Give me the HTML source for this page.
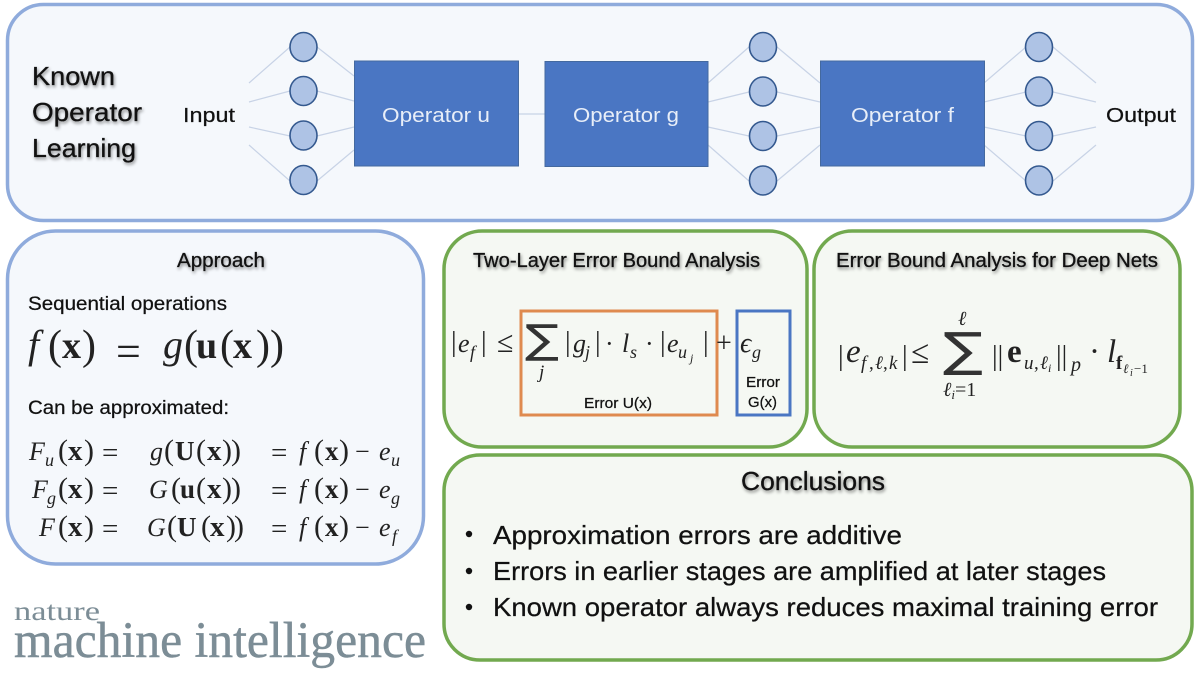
<!DOCTYPE html>
<html><head><meta charset="utf-8">
<style>
html,body{margin:0;padding:0;background:#fff}
svg{display:block}
text{font-family:"Liberation Sans",sans-serif;fill:#111}
.s{stroke:#111;stroke-width:.25px}
.sh{filter:drop-shadow(1.5px 2.5px 1.5px rgba(0,0,0,.45));stroke:#111;stroke-width:.3px}
.m{font-family:"Liberation Serif",serif;fill:#222}
.i{font-style:italic}
.b{font-weight:bold}
.op{fill:#e8eef8;font-size:20px}
.l{stroke:#c8d3e6;stroke-width:1.2;fill:none}
.c{fill:#aec3e5;stroke:#34598f;stroke-width:1.6}
.r{fill:#4a76c3;stroke:#44699f;stroke-width:1}
.t{font-size:20px}
.bl{font-size:26px}
.sg{font-family:"DejaVu Sans",sans-serif;fill:#333}
</style></head><body>
<svg width="1200" height="675" viewBox="0 0 1200 675" xmlns="http://www.w3.org/2000/svg">
<rect width="1200" height="675" fill="#fff"/>
<rect x="7.5" y="4.5" width="1185" height="216" rx="36" fill="#f5f8fc" stroke="#8fabdc" stroke-width="3.5"/>
<rect x="7.5" y="231" width="416" height="333" rx="48" fill="#f5f8fc" stroke="#8fabdc" stroke-width="3.5"/>
<rect x="444" y="231" width="363" height="216" rx="38" fill="#f5f8f3" stroke="#72a94f" stroke-width="3.5"/>
<rect x="814" y="231" width="366" height="216" rx="38" fill="#f5f8f3" stroke="#72a94f" stroke-width="3.5"/>
<rect x="444" y="455" width="748" height="205" rx="36" fill="#f5f8f3" stroke="#72a94f" stroke-width="3.5"/>

<g class="l">
<path d="M249 83L290 47M249 102L290 91M249 127L290 136M249 145L290 181"/>
<path d="M317 47L354 76M317 91L354 101M317 136L354 127M317 181L354 150"/>
<path d="M519 114H545"/>
<path d="M708 83L749 47M708 102L749 92M708 127L749 136M708 145L749 181"/>
<path d="M777 47L820 83M777 92L820 102M777 136L820 127M777 181L820 145"/>
<path d="M984 83L1026 47M984 102L1026 92M984 127L1026 136M984 145L1026 181"/>
<path d="M1053 47L1096 83M1053 92L1096 102M1053 136L1096 127M1053 181L1096 145"/>
</g>
<g class="c">
<ellipse cx="303.500" cy="47" rx="13.500" ry="14.500"/><ellipse cx="303.500" cy="91" rx="13.500" ry="14.500"/><ellipse cx="303.500" cy="135.500" rx="13.500" ry="14.500"/><ellipse cx="303.500" cy="180" rx="13.500" ry="14.500"/>
<ellipse cx="763" cy="47" rx="13.500" ry="14.500"/><ellipse cx="763" cy="91.500" rx="13.500" ry="14.500"/><ellipse cx="763" cy="136" rx="13.500" ry="14.500"/><ellipse cx="763" cy="180.500" rx="13.500" ry="14.500"/>
<ellipse cx="1039" cy="47" rx="13.500" ry="14.500"/><ellipse cx="1039" cy="91.500" rx="13.500" ry="14.500"/><ellipse cx="1039" cy="136" rx="13.500" ry="14.500"/><ellipse cx="1039" cy="180.500" rx="13.500" ry="14.500"/>
</g>
<rect class="r" x="354.500" y="61" width="164" height="105"/>
<rect class="r" x="545" y="61.500" width="163" height="105"/>
<rect class="r" x="820.500" y="61" width="164" height="105"/>
<text class="op" x="382" y="122" textLength="108" lengthAdjust="spacingAndGlyphs">Operator u</text>
<text class="op" x="573" y="122" textLength="106" lengthAdjust="spacingAndGlyphs">Operator g</text>
<text class="op" x="851" y="122" textLength="103" lengthAdjust="spacingAndGlyphs">Operator f</text>
<text class="t s" x="183" y="122" textLength="52" lengthAdjust="spacingAndGlyphs">Input</text>
<text class="t s" x="1106" y="122" textLength="70" lengthAdjust="spacingAndGlyphs">Output</text>

<g class="sh">
<text x="32" y="85" font-size="26" textLength="83" lengthAdjust="spacingAndGlyphs">Known</text>
<text x="32" y="121" font-size="26" textLength="110" lengthAdjust="spacingAndGlyphs">Operator</text>
<text x="32" y="157" font-size="26" textLength="104" lengthAdjust="spacingAndGlyphs">Learning</text>
</g>

<text class="sh" x="177" y="267" font-size="20" textLength="88" lengthAdjust="spacingAndGlyphs">Approach</text>
<text class="s" x="28" y="310" font-size="19" textLength="199" lengthAdjust="spacingAndGlyphs">Sequential operations</text>
<text class="s" x="28" y="414" font-size="19" textLength="201" lengthAdjust="spacingAndGlyphs">Can be approximated:</text>

<g>
<text class="m i" x="28" y="358" font-size="40">f</text>
<text class="m" x="48" y="359" font-size="42">(</text>
<text class="m b" x="62" y="358" font-size="38">x</text>
<text class="m" x="82" y="359" font-size="42">)</text>
<text class="m" x="116" y="366" font-size="44">=</text>
<text class="m i" x="163" y="358" font-size="40">g</text>
<text class="m" x="184" y="359" font-size="42">(</text>
<text class="m b" x="196" y="358" font-size="38">u</text>
<text class="m" x="220" y="359" font-size="42">(</text>
<text class="m b" x="233" y="358" font-size="38">x</text>
<text class="m" x="256" y="359" font-size="42">)</text>
<text class="m" x="270" y="359" font-size="42">)</text>

<text class="m i" x="29" y="460" font-size="26">F</text><text class="m i" x="45" y="466" font-size="18">u</text>
<text class="m" x="58" y="460" font-size="30">(</text><text class="m b" x="68" y="460" font-size="29">x</text><text class="m" x="84" y="460" font-size="30">)</text>
<text class="m" x="102" y="462" font-size="29">=</text>
<text class="m i" x="150" y="460" font-size="26">g</text><text class="m" x="164" y="460" font-size="30">(</text><text class="m b" x="175" y="460" font-size="27">U</text><text class="m" x="196" y="460" font-size="30">(</text><text class="m b" x="207" y="460" font-size="29">x</text><text class="m" x="222" y="460" font-size="30">)</text><text class="m" x="231" y="460" font-size="30">)</text>
<text class="m" x="271" y="462" font-size="29">=</text>
<text class="m i" x="299" y="460" font-size="26">f</text><text class="m" x="314" y="460" font-size="30">(</text><text class="m b" x="325" y="460" font-size="27">x</text><text class="m" x="339" y="460" font-size="30">)</text>
<text class="m" x="355" y="460" font-size="26">−</text>
<text class="m i" x="379" y="460" font-size="26">e</text><text class="m i" x="391" y="466" font-size="18">u</text>

<text class="m i" x="32" y="498" font-size="26">F</text><text class="m i" x="47" y="504" font-size="18">g</text>
<text class="m" x="58" y="498" font-size="30">(</text><text class="m b" x="68" y="498" font-size="29">x</text><text class="m" x="84" y="498" font-size="30">)</text>
<text class="m" x="102" y="500" font-size="29">=</text>
<text class="m i" x="149" y="498" font-size="26">G</text><text class="m" x="171" y="498" font-size="30">(</text><text class="m b" x="180" y="498" font-size="27">u</text><text class="m" x="196" y="498" font-size="30">(</text><text class="m b" x="207" y="498" font-size="29">x</text><text class="m" x="222" y="498" font-size="30">)</text><text class="m" x="231" y="498" font-size="30">)</text>
<text class="m" x="271" y="500" font-size="29">=</text>
<text class="m i" x="299" y="498" font-size="26">f</text><text class="m" x="314" y="498" font-size="30">(</text><text class="m b" x="325" y="498" font-size="27">x</text><text class="m" x="339" y="498" font-size="30">)</text>
<text class="m" x="355" y="498" font-size="26">−</text>
<text class="m i" x="379" y="498" font-size="26">e</text><text class="m i" x="391" y="504" font-size="18">g</text>

<text class="m i" x="39" y="536" font-size="26">F</text>
<text class="m" x="58" y="536" font-size="30">(</text><text class="m b" x="68" y="536" font-size="29">x</text><text class="m" x="84" y="536" font-size="30">)</text>
<text class="m" x="102" y="538" font-size="29">=</text>
<text class="m i" x="147" y="536" font-size="26">G</text><text class="m" x="167" y="536" font-size="30">(</text><text class="m b" x="177" y="536" font-size="27">U</text><text class="m" x="201" y="536" font-size="30">(</text><text class="m b" x="210" y="536" font-size="29">x</text><text class="m" x="226" y="536" font-size="30">)</text><text class="m" x="234" y="536" font-size="30">)</text>
<text class="m" x="271" y="538" font-size="29">=</text>
<text class="m i" x="299" y="536" font-size="26">f</text><text class="m" x="314" y="536" font-size="30">(</text><text class="m b" x="325" y="536" font-size="27">x</text><text class="m" x="339" y="536" font-size="30">)</text>
<text class="m" x="355" y="536" font-size="26">−</text>
<text class="m i" x="379" y="536" font-size="26">e</text><text class="m i" x="392" y="542" font-size="18">f</text>
</g>

<text class="sh" x="473" y="267" font-size="20" textLength="287" lengthAdjust="spacingAndGlyphs">Two-Layer Error Bound Analysis</text>
<text class="sh" x="836" y="267" font-size="20" textLength="322" lengthAdjust="spacingAndGlyphs">Error Bound Analysis for Deep Nets</text>

<rect x="521" y="311" width="196" height="104" fill="none" stroke="#df8a4f" stroke-width="3"/>
<rect x="737" y="311" width="53" height="104" fill="none" stroke="#4a76c3" stroke-width="3"/>
<g>
<text class="m" x="451" y="351" font-size="28">|</text>
<text class="m i" x="458" y="352" font-size="26">e</text><text class="m i" x="470" y="358" font-size="18">f</text>
<text class="m" x="481" y="351" font-size="28">|</text>
<text class="m" x="497" y="352" font-size="30">≤</text>
<text class="sg" x="525" y="353" font-size="40" textLength="34" lengthAdjust="spacingAndGlyphs">∑</text>
<text class="m i" x="539" y="378" font-size="19">j</text>
<text class="m" x="565" y="351" font-size="28">|</text>
<text class="m i" x="573" y="352" font-size="26">g</text><text class="m i" x="585" y="358" font-size="18">j</text>
<text class="m" x="595" y="351" font-size="28">|</text>
<text class="m" x="605" y="352" font-size="26">·</text>
<text class="m i" x="622" y="352" font-size="26">l</text><text class="m i" x="630" y="358" font-size="18">s</text>
<text class="m" x="645" y="352" font-size="26">·</text>
<text class="m" x="660" y="351" font-size="28">|</text>
<text class="m i" x="667" y="352" font-size="26">e</text><text class="m i" x="678" y="358" font-size="18">u</text><text class="m i" x="690" y="362" font-size="12">j</text>
<text class="m" x="703" y="351" font-size="28">|</text>
<text class="m" x="716" y="352" font-size="28">+</text>
<text class="m i" x="740" y="352" font-size="28">ϵ</text><text class="m i" x="752" y="358" font-size="18">g</text>
</g>
<text class="s" x="584" y="408" font-size="15" textLength="68" lengthAdjust="spacingAndGlyphs">Error U(x)</text>
<text class="s" x="746" y="387" font-size="15" textLength="34" lengthAdjust="spacingAndGlyphs">Error</text>
<text class="s" x="748" y="407" font-size="15" textLength="29" lengthAdjust="spacingAndGlyphs">G(x)</text>

<g>
<text class="m" x="838" y="365" font-size="28">|</text>
<text class="m i" x="846" y="362" font-size="33">e</text>
<text class="m i" x="861" y="369" font-size="19">f</text><text class="m" x="869" y="369" font-size="19">,</text><text class="m i" x="875" y="369" font-size="19">ℓ</text><text class="m" x="883" y="369" font-size="19">,</text><text class="m i" x="889" y="369" font-size="19">k</text>
<text class="m" x="902" y="365" font-size="28">|</text>
<text class="m" x="911" y="363" font-size="33">≤</text>
<text class="sg" x="943" y="366" font-size="47" textLength="40" lengthAdjust="spacingAndGlyphs">∑</text>
<text class="m i" x="958" y="325" font-size="20">ℓ</text>
<text class="m" x="943" y="396" font-size="20"><tspan class="i">ℓ</tspan><tspan class="i" font-size="13" dy="3">i</tspan><tspan dy="-3">=1</tspan></text>
<text class="m" x="992" y="365" font-size="28">||</text>
<text class="m b" x="1007" y="362" font-size="33">e</text>
<text class="m i" x="1024" y="369" font-size="19">u</text><text class="m" x="1034" y="369" font-size="19">,</text><text class="m i" x="1040" y="369" font-size="19">ℓ</text><text class="m i" x="1048" y="372" font-size="12">i</text>
<text class="m" x="1056" y="365" font-size="28">||</text>
<text class="m i" x="1071" y="371" font-size="20">p</text>
<text class="m" x="1089" y="362" font-size="33">·</text>
<text class="m i" x="1107" y="362" font-size="33">l</text>
<text class="m b" x="1116" y="369" font-size="19">f</text><text class="m i" x="1123" y="373" font-size="13">ℓ</text><text class="m i" x="1130" y="376" font-size="10">i</text><text class="m" x="1134" y="373" font-size="13">−1</text>
</g>

<text class="sh" x="741" y="490" font-size="26" textLength="144" lengthAdjust="spacingAndGlyphs">Conclusions</text>
<circle cx="469" cy="534" r="3.200" fill="#111"/>
<circle cx="469" cy="571" r="3.200" fill="#111"/>
<circle cx="469" cy="607" r="3.200" fill="#111"/>
<text class="bl s" x="493" y="544" textLength="409" lengthAdjust="spacingAndGlyphs">Approximation errors are additive</text>
<text class="bl s" x="493" y="580" textLength="613" lengthAdjust="spacingAndGlyphs">Errors in earlier stages are amplified at later stages</text>
<text class="bl s" x="493" y="616" textLength="665" lengthAdjust="spacingAndGlyphs">Known operator always reduces maximal training error</text>

<text x="14" y="620" font-size="27" textLength="86" lengthAdjust="spacingAndGlyphs" style="font-family:'Liberation Serif',serif;fill:#7c8d96">nature</text>
<text x="14" y="657" font-size="51" textLength="412" lengthAdjust="spacingAndGlyphs" style="font-family:'Liberation Serif',serif;fill:#7c8d96;stroke:#7c8d96;stroke-width:.5px">machine intelligence</text>
</svg>
</body></html>
